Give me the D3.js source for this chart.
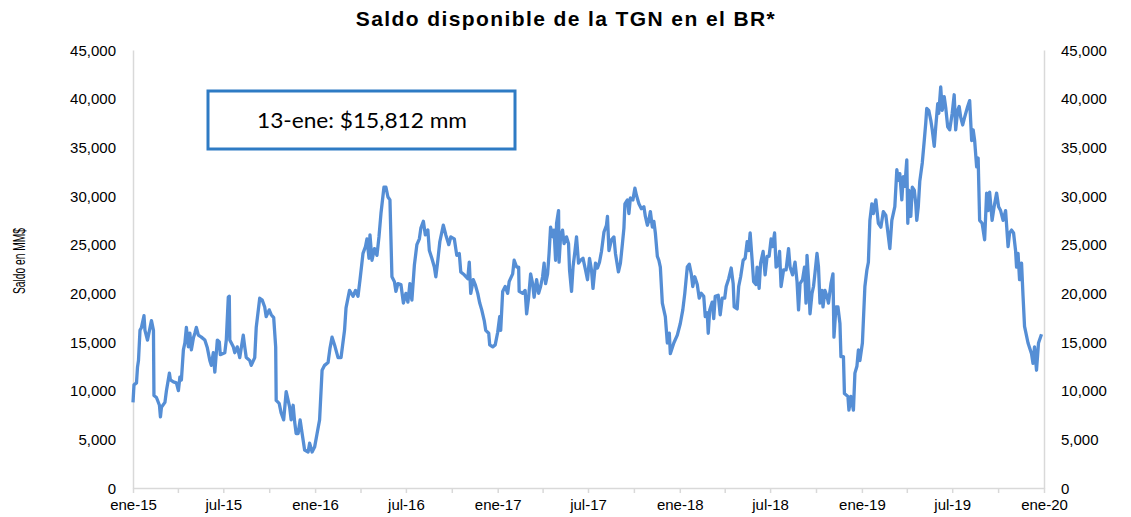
<!DOCTYPE html>
<html>
<head>
<meta charset="utf-8">
<script src="https://cdn.jsdelivr.net/npm/d3@7"></script>
<style>
  body { margin: 0; background: #fff; }
  svg text { font-family: Arial, "Liberation Sans", sans-serif; fill: #000; }
</style>
</head>
<body>
<svg id="chart" width="1131" height="517"></svg>
<script>
const svg = d3.select('#chart');

const width = 1131;
const height = 517;

const titulo = "Saldo disponible de la TGN en el BR*";
const tituloEje = "Saldo en MM$";
const nota = "13-ene: $15,812 mm";
const meses = ["ene", "feb", "mar", "abr", "may", "jun", "jul", "ago", "sep", "oct", "nov", "dic"];
const yTicks = [0, 5000, 10000, 15000, 20000, 25000, 30000, 35000, 40000, 45000];

// fechas y saldo (millones de pesos)
const fechas = [
  "2015-01-01","2015-01-03","2015-01-08","2015-01-10","2015-01-12","2015-01-15","2015-01-18","2015-01-23","2015-01-25","2015-01-30",
  "2015-02-03","2015-02-07","2015-02-11","2015-02-12","2015-02-17","2015-02-23","2015-02-25","2015-02-27","2015-03-06","2015-03-09",
  "2015-03-15","2015-03-17","2015-03-23","2015-03-29","2015-04-02","2015-04-05","2015-04-08","2015-04-12","2015-04-15","2015-04-18",
  "2015-04-22","2015-04-25","2015-04-28","2015-05-02","2015-05-05","2015-05-08","2015-05-12","2015-05-18","2015-05-25","2015-05-30",
  "2015-06-04","2015-06-07","2015-06-11","2015-06-14","2015-06-19","2015-06-23","2015-06-25","2015-07-04","2015-07-07","2015-07-11",
  "2015-07-13","2015-07-14","2015-07-21","2015-07-24","2015-07-29","2015-08-03","2015-08-10","2015-08-13","2015-08-16","2015-08-23",
  "2015-08-26","2015-09-02","2015-09-05","2015-09-12","2015-09-17","2015-09-22","2015-09-25","2015-10-01","2015-10-05","2015-10-10",
  "2015-10-14","2015-10-15","2015-10-21","2015-10-25","2015-10-30","2015-11-04","2015-11-11","2015-11-14","2015-11-18","2015-11-21",
  "2015-11-24","2015-11-28","2015-12-02","2015-12-06","2015-12-11","2015-12-18","2015-12-21","2015-12-26","2015-12-31",
  "2016-01-05","2016-01-10","2016-01-15","2016-01-20","2016-01-27","2016-01-31","2016-02-04","2016-02-09","2016-02-16","2016-02-22",
  "2016-02-29","2016-03-03","2016-03-10","2016-03-17","2016-03-22","2016-03-27","2016-03-31","2016-04-06","2016-04-11","2016-04-14",
  "2016-04-18","2016-04-20","2016-04-24","2016-04-29","2016-05-04","2016-05-08","2016-05-12","2016-05-18","2016-05-22","2016-05-26",
  "2016-05-30","2016-06-03","2016-06-08","2016-06-11","2016-06-15","2016-06-21","2016-06-26","2016-07-01","2016-07-05","2016-07-09",
  "2016-07-13","2016-07-18","2016-07-23","2016-07-28","2016-07-31","2016-08-05","2016-08-09","2016-08-14","2016-08-17","2016-08-22",
  "2016-08-27","2016-08-30","2016-09-03","2016-09-07","2016-09-14","2016-09-19","2016-09-25","2016-09-29","2016-10-06","2016-10-11",
  "2016-10-16","2016-10-19","2016-10-26","2016-11-02","2016-11-05","2016-11-08","2016-11-13","2016-11-17","2016-11-22","2016-11-26",
  "2016-11-30","2016-12-05","2016-12-08","2016-12-14","2016-12-16","2016-12-22","2016-12-27",
  "2017-01-01","2017-01-05","2017-01-07","2017-01-11","2017-01-16","2017-01-21","2017-01-24","2017-01-31","2017-02-03","2017-02-08",
  "2017-02-12","2017-02-13","2017-02-20","2017-02-25","2017-02-28","2017-03-04","2017-03-08","2017-03-12","2017-03-15","2017-03-20",
  "2017-03-24","2017-03-28","2017-04-01","2017-04-04","2017-04-07","2017-04-11","2017-04-14","2017-04-17","2017-04-22","2017-04-24",
  "2017-04-27","2017-04-29","2017-05-03","2017-05-04","2017-05-07","2017-05-11","2017-05-14","2017-05-19","2017-05-23","2017-05-25",
  "2017-05-29","2017-06-01","2017-06-05","2017-06-08","2017-06-12","2017-06-16","2017-06-21","2017-06-26","2017-06-30","2017-07-04",
  "2017-07-08","2017-07-11","2017-07-16","2017-07-20","2017-07-24","2017-07-28","2017-08-02","2017-08-07","2017-08-09","2017-08-12",
  "2017-08-17","2017-08-22","2017-08-25","2017-08-31","2017-09-04","2017-09-08","2017-09-11","2017-09-13","2017-09-18","2017-09-21",
  "2017-09-24","2017-09-29","2017-10-03","2017-10-06","2017-10-11","2017-10-16","2017-10-21","2017-10-24","2017-10-28","2017-10-31",
  "2017-11-03","2017-11-07","2017-11-10","2017-11-13","2017-11-17","2017-11-20","2017-11-23","2017-11-27","2017-11-30","2017-12-03",
  "2017-12-07","2017-12-11","2017-12-13","2017-12-20","2017-12-27",
  "2018-01-02","2018-01-07","2018-01-11","2018-01-16","2018-01-20","2018-01-24","2018-01-27","2018-01-31","2018-02-05","2018-02-09",
  "2018-02-13","2018-02-18","2018-02-21","2018-02-25","2018-02-27","2018-03-02","2018-03-07","2018-03-10","2018-03-13","2018-03-19",
  "2018-03-23","2018-03-27","2018-04-01","2018-04-04","2018-04-09","2018-04-14","2018-04-18","2018-04-20","2018-04-26","2018-04-29",
  "2018-05-03","2018-05-08","2018-05-12","2018-05-16","2018-05-19","2018-05-22","2018-05-26","2018-05-29","2018-06-03","2018-06-05",
  "2018-06-09","2018-06-12","2018-06-17","2018-06-21","2018-06-25","2018-06-29","2018-07-03","2018-07-06","2018-07-10","2018-07-13",
  "2018-07-17","2018-07-20","2018-07-23","2018-07-28","2018-08-02","2018-08-07","2018-08-10","2018-08-15","2018-08-20","2018-08-24",
  "2018-08-27","2018-08-30","2018-09-04","2018-09-08","2018-09-11","2018-09-13","2018-09-16","2018-09-19","2018-09-23","2018-09-26",
  "2018-09-29","2018-10-03","2018-10-06","2018-10-09","2018-10-13","2018-10-15","2018-10-19","2018-10-23","2018-10-26","2018-10-31",
  "2018-11-04","2018-11-06","2018-11-10","2018-11-14","2018-11-18","2018-11-20","2018-11-25","2018-11-27","2018-12-04","2018-12-06",
  "2018-12-10","2018-12-15","2018-12-18","2018-12-22","2018-12-25","2018-12-28",
  "2019-01-02","2019-01-07","2019-01-11","2019-01-14","2019-01-17","2019-01-21","2019-01-24","2019-01-29","2019-02-03","2019-02-08",
  "2019-02-13","2019-02-18","2019-02-22","2019-02-26","2019-03-02","2019-03-08","2019-03-12","2019-03-15","2019-03-18","2019-03-22",
  "2019-03-25","2019-03-28","2019-04-01","2019-04-03","2019-04-05","2019-04-09","2019-04-12","2019-04-16","2019-04-19","2019-04-21",
  "2019-04-24","2019-04-27","2019-05-02","2019-05-06","2019-05-09","2019-05-11","2019-05-15","2019-05-19","2019-05-22","2019-05-26",
  "2019-05-29","2019-06-02","2019-06-04","2019-06-08","2019-06-11","2019-06-15","2019-06-18","2019-06-22","2019-06-26","2019-07-01",
  "2019-07-05","2019-07-08","2019-07-12","2019-07-15","2019-07-18","2019-07-22","2019-07-26","2019-08-01","2019-08-05","2019-08-09",
  "2019-08-12","2019-08-15","2019-08-19","2019-08-22","2019-08-25","2019-08-30","2019-09-04","2019-09-08","2019-09-11","2019-09-14",
  "2019-09-19","2019-09-23","2019-09-28","2019-10-02","2019-10-06","2019-10-11","2019-10-16","2019-10-21","2019-10-24","2019-10-28",
  "2019-11-01","2019-11-05","2019-11-07","2019-11-10","2019-11-13","2019-11-17","2019-11-20","2019-11-23","2019-11-30","2019-12-07",
  "2019-12-10","2019-12-13","2019-12-17","2019-12-21","2019-12-27"
];

const saldo = [
  8800,10600,10800,12400,13100,16200,16500,17700,16200,15200,
  16200,17200,16200,9500,9300,8500,7300,8300,8800,10000,
  11800,11100,10900,10800,10000,11400,11100,14200,14900,16500,
  14500,15900,14200,15400,15900,16500,15700,15500,15200,14400,
  13100,12600,13900,11900,15200,15000,13700,13900,15200,19600,
  19700,15200,14500,13900,14500,13400,15700,14500,13400,13100,
  12600,13400,16500,19500,19300,18600,17600,18300,17800,17500,
  14500,9000,8700,7700,7000,9900,8300,7000,8500,6800,
  5600,5600,7000,5600,3900,3700,4600,3700,4200,
  5600,7000,12100,12600,12900,14400,15500,14700,13400,13400,
  16200,18500,20300,19700,20300,19700,21400,24100,24800,25600,
  23600,26000,23400,24600,23900,25800,28200,30900,30900,29900,
  29600,21700,21200,20200,21000,20900,19000,20000,19100,21000,
  19300,22900,25000,25600,26700,27400,26000,26500,24400,23600,
  22700,21700,23400,25300,27000,26000,25000,25800,25600,23900,
  24100,22200,21900,21500,23200,20000,21400,20900,20000,19000,
  18300,17200,16200,15900,14700,14500,14700,
  16000,17600,16200,20200,20700,20000,21200,22000,23400,22700,
  22700,20200,20000,20300,17900,19600,22000,21000,19600,21400,
  20000,20700,21700,23100,21000,22000,24100,26800,25800,26500,
  23400,27200,28500,23200,25800,26500,25100,25800,25100,22400,
  20200,22700,24400,25800,23100,23400,23600,22400,21400,23600,
  22400,20500,23100,22600,23200,24300,26300,27000,27900,24400,
  25500,25800,24100,22200,23100,25100,26700,29200,29600,28200,
  29800,29600,30800,30100,29200,28700,28900,27900,27000,27500,
  28400,26800,27400,26200,23800,23400,22700,19000,18300,17600,
  14900,15900,13800,14900,15700,
  16900,18300,20000,22700,23000,22000,20700,21700,20900,19500,
  20000,19700,17600,18000,15900,18300,19100,17400,19700,19800,
  17800,19500,19500,20700,21500,22600,21000,18600,18400,20700,
  21700,23400,23600,25300,24400,26200,23400,21200,20900,22700,
  20500,23100,24300,21900,23800,23800,25600,24800,26200,22700,
  22900,24300,20700,22400,22400,24600,22700,21900,23200,21200,
  18300,21000,21400,22700,19000,23900,21400,17900,20000,20700,
  22100,24100,22700,19000,20300,18600,20300,19700,19000,21000,
  22000,15500,18600,18600,16900,13500,13500,9700,9400,8000,
  9400,8000,11800,12500,14200,13100,
  14900,20700,22400,23200,27500,29200,28200,29600,27200,26800,
  28400,28000,26300,24600,27500,28900,32700,31600,32300,29600,
  32000,31000,33700,27200,30600,27900,30900,30600,29200,27500,
  28900,31500,33400,35700,37500,39000,38800,37800,36800,35100,
  37100,39500,38500,41200,38800,40200,39100,37100,36800,38500,
  40400,36800,38800,39200,38100,37300,38100,39200,39800,35700,
  36800,35700,33000,33900,27500,27200,25500,30300,28500,30400,
  27500,28900,30300,28900,28500,27500,28500,24800,26200,26500,
  26200,24400,22700,24100,21400,23100,19700,16600,14900,13800,
  12800,14500,12100,14900,15800
];

const margin = { left: 133, right: 1044, top: 50, bottom: 488 };

const parseFecha = d3.timeParse("%Y-%m-%d");
const data = fechas.map(function (f, i) {
  return { fecha: parseFecha(f), valor: saldo[i] };
});

const x = d3.scaleTime()
  .domain([new Date(2015, 0, 1), new Date(2020, 0, 1)])
  .range([margin.left, margin.right]);

const y = d3.scaleLinear()
  .domain([0, 45000])
  .range([margin.bottom, margin.top]);

const fmtNum = d3.format(",");
function fmtFecha(d) {
  if (d.getMonth() % 6 !== 0) return "";
  return meses[d.getMonth()] + "-" + String(d.getFullYear()).slice(2);
}

// titulo
svg.append("text")
  .attr("x", 566)
  .attr("y", 26)
  .attr("text-anchor", "middle")
  .style("font-size", "21px")
  .style("font-weight", "bold")
  .style("letter-spacing", "1.4px")
  .text(titulo);

// eje y izquierdo
const yLeft = svg.append("g")
  .attr("transform", "translate(" + margin.left + ",0)")
  .call(d3.axisLeft(y).tickValues(yTicks).tickFormat(fmtNum).tickSize(0).tickPadding(17));

// eje y derecho
const yRight = svg.append("g")
  .attr("transform", "translate(" + margin.right + ",0)")
  .call(d3.axisRight(y).tickValues(yTicks).tickFormat(fmtNum).tickSize(0).tickPadding(17));

// eje x
const xAxis = svg.append("g")
  .attr("transform", "translate(0," + margin.bottom + ")")
  .call(d3.axisBottom(x).ticks(d3.timeMonth.every(3)).tickFormat(fmtFecha).tickSize(5).tickSizeOuter(0).tickPadding(6));

[yLeft, yRight, xAxis].forEach(function (g) {
  g.select(".domain").attr("stroke", "#d9d9d9").attr("stroke-width", 1.5);
  g.selectAll(".tick line").attr("stroke", "#d9d9d9").attr("stroke-width", 1.5);
  g.selectAll(".tick text")
    .style("font-size", "15px")
    .style("font-family", "Arial, 'Liberation Sans', sans-serif")
    .attr("fill", "#000");
});
yLeft.selectAll(".tick text").attr("dy", "0.35em");
yRight.selectAll(".tick text").attr("dy", "0.35em");

// titulo eje y
svg.append("text")
  .attr("transform", "translate(25,261) rotate(-90)")
  .attr("text-anchor", "middle")
  .attr("textLength", 66)
  .attr("lengthAdjust", "spacingAndGlyphs")
  .style("font-size", "16px")
  .text(tituloEje);

// serie
const line = d3.line()
  .x(function (d) { return x(d.fecha); })
  .y(function (d) { return y(d.valor); });

svg.append("path")
  .datum(data)
  .attr("fill", "none")
  .attr("stroke", "#558ed5")
  .attr("stroke-width", 3.3)
  .attr("stroke-linejoin", "round")
  .attr("d", line);

// recuadro con el ultimo dato
const nota_g = svg.append("g");
nota_g.append("rect")
  .attr("x", 208)
  .attr("y", 91)
  .attr("width", 307)
  .attr("height", 58)
  .attr("fill", "#fff")
  .attr("stroke", "#2e7bc4")
  .attr("stroke-width", 3);
nota_g.append("text")
  .attr("x", 362)
  .attr("y", 128)
  .attr("text-anchor", "middle")
  .attr("textLength", 210)
  .attr("lengthAdjust", "spacingAndGlyphs")
  .style("font-size", "21px")
  .style("font-family", "Lato, 'Open Sans', sans-serif")
  .text(nota);
</script>
</body>
</html>
